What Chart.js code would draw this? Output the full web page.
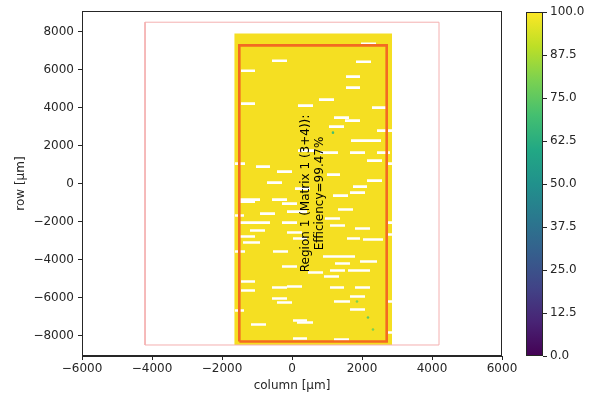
<!DOCTYPE html>
<html><head><meta charset="utf-8">
<script src="https://cdn.jsdelivr.net/npm/chart.js@4.4.1/dist/chart.umd.min.js"></script>
<style>
html,body{margin:0;padding:0;background:#fff;}
#wrap{position:relative;width:589px;height:396px;overflow:hidden;}
canvas{position:absolute;left:0;top:0;}
</style></head><body>
<div id="wrap"><canvas id="main" width="589" height="396"></canvas><canvas id="cbar" width="589" height="396"></canvas></div>
<script>
// ---- data ----
const xTicks = [-6000, -4000, -2000, 0, 2000, 4000, 6000];
const yTicks = [-8000, -6000, -4000, -2000, 0, 2000, 4000, 6000, 8000];
const cbarTicks = [0, 12.5, 25, 37.5, 50, 62.5, 75, 87.5, 100];
const xRange = [-6000, 6000];
const yRange = [-9080, 9080];
const sensorX = [-4200, 4200];
const sensorY = [-8500, 8500];
const heatX = [-1650, 2860];
const heatY = [-8500, 7900];
const heatValue = 100;
const regionX = [-1505, 2705];
const regionY = [-8316, 7280];
const regionLabel = ['Region 1 (Matrix 1 (3+4)):', 'Efficiency=99.47%'];
// dead (0 %) row segments: [xStart, xEnd, y]
const deadRows = [
 [1971, 2400, 7368], [-571, -143, 6474], [1829, 2257, 6421], [-1457, -1057, 5947],
 [1543, 1943, 5632], [1543, 1943, 5053], [771, 1200, 4421], [-1457, -1057, 4211],
 [171, 600, 4105], [2286, 2686, 4000], [1200, 1629, 3474], [1514, 1943, 3316],
 [1057, 1486, 3000], [2429, 2857, 2789], [1686, 2543, 2263], [171, 657, 1737],
 [800, 1314, 1632], [1657, 2086, 1632], [2429, 2800, 1632], [2143, 2571, 1211],
 [-1629, -1343, 1053], [2714, 2857, 1053], [-1029, -629, 895], [-429, 0, 632],
 [1000, 1371, 474], [2143, 2571, 158], [-714, -286, 53], [1743, 2143, -158],
 [86, 514, -263], [1657, 2086, -474], [1171, 1600, -632], [-1486, -914, -842],
 [-571, -143, -842], [-1486, -1057, -947], [-286, 143, -1053], [1314, 1743, -1368],
 [-143, 429, -1474], [-914, -486, -1579], [-1629, -1371, -1684], [943, 1371, -1842],
 [-1486, -629, -2053], [-286, 143, -2053], [2714, 2857, -2053], [1086, 1514, -2210],
 [1800, 2229, -2368], [-1200, -771, -2474], [-143, 286, -2579], [2714, 2857, -2684],
 [-1486, -1057, -2789], [29, 429, -2895], [1571, 1943, -2895], [2029, 2600, -2947],
 [-1400, -914, -3105], [-1629, -1343, -3579], [-543, -114, -3579], [886, 1800, -3842],
 [1943, 2429, -4105], [1229, 1657, -4210], [-286, 143, -4368], [1086, 1514, -4579],
 [1600, 2229, -4579], [457, 886, -4684], [914, 1343, -4895], [-1457, -1057, -5158],
 [-143, 286, -5421], [-571, -143, -5474], [1086, 1486, -5474], [1800, 2229, -5474],
 [-1457, -1057, -5632], [1657, 2086, -5947], [-571, -143, -6053], [1200, 1657, -6210],
 [2714, 2857, -6210], [-429, 0, -6263], [1657, 2086, -6632], [-1629, -1371, -6684],
 [29, 429, -7210], [143, 600, -7316], [-1171, -743, -7421], [2714, 2857, -7842],
 [29, 429, -8158], [1200, 1629, -8210]
];
// low-efficiency single pixels: [x, y, efficiency]
const lowPixels = [[1171, 2684, 70], [1857, -6210, 80], [2171, -7052, 75], [2314, -7684, 80]];

// ---- colour map ----
const viridisStops = ['#440154','#482475','#414487','#355f8d','#2a788e','#21918c','#22a884','#44bf70','#7ad151','#bddf26','#fde725'];
function hex(c){return [parseInt(c.substr(1,2),16),parseInt(c.substr(3,2),16),parseInt(c.substr(5,2),16)];}
function viridis(v){
  const t = Math.max(0, Math.min(1, v/100)) * (viridisStops.length-1);
  const i = Math.min(Math.floor(t), viridisStops.length-2), f = t - i;
  const a = hex(viridisStops[i]), b = hex(viridisStops[i+1]);
  return 'rgb(' + a.map((k,j)=>Math.round(k+(b[j]-k)*f)).join(',') + ')';
}
const FONT = {family: 'DejaVu Sans', size: 12};
const DARK = '#262626';
const minus = v => (v < 0 ? '\u2212' + Math.abs(v) : String(v));
const rect = (xs, ys) => [{x:xs[0],y:ys[0]},{x:xs[1],y:ys[0]},{x:xs[1],y:ys[1]},{x:xs[0],y:ys[1]},{x:xs[0],y:ys[0]}];

const datasets = [];
datasets.push({
  data: [{x: heatX[0], y: heatY[1]}, {x: heatX[1], y: heatY[1]}],
  fill: {value: heatY[0]}, backgroundColor: '#f5df22',
  borderColor: 'rgba(0,0,0,0)', borderWidth: 0, pointRadius: 0, order: 6
});
deadRows.forEach(r => datasets.push({
  data: [{x: r[0], y: r[2]}, {x: r[1], y: r[2]}],
  borderColor: '#ffffff', borderWidth: 2.6, borderCapStyle: 'butt', pointRadius: 0, fill: false, order: 5
}));
datasets.push({
  data: lowPixels.map(p => ({x: p[0], y: p[1]})), showLine: false,
  pointRadius: 1.3, pointBorderWidth: 0,
  pointBackgroundColor: lowPixels.map(p => viridis(p[2])), order: 4
});
datasets.push({
  data: rect(sensorX, sensorY), borderColor: '#f4b0b0', borderWidth: 1, pointRadius: 0, fill: false, order: 3
});
datasets.push({
  data: rect(regionX, regionY), borderColor: '#f36a22', borderWidth: 2.6, pointRadius: 0, fill: false, order: 2
});

const mainPlugin = {
  id: 'mainDeco',
  afterDatasetsDraw(chart) {
    const ctx = chart.ctx, xs = chart.scales.x, ys = chart.scales.y;
    const cx = xs.getPixelForValue((regionX[0]+regionX[1])/2);
    const cy = ys.getPixelForValue((regionY[0]+regionY[1])/2);
    ctx.save();
    ctx.translate(cx, cy);
    ctx.rotate(-Math.PI/2);
    ctx.fillStyle = '#000';
    ctx.font = '12px "DejaVu Sans"';
    ctx.textAlign = 'center';
    ctx.textBaseline = 'middle';
    ctx.fillText(regionLabel[0], 0, -7);
    ctx.fillText(regionLabel[1], 0, 7);
    ctx.restore();
  },
  afterDraw(chart) {
    const a = chart.chartArea, ctx = chart.ctx;
    ctx.save();
    ctx.strokeStyle = DARK; ctx.lineWidth = 1;
    ctx.strokeRect(Math.round(a.left)+0.5, Math.round(a.top)+0.5, Math.round(a.right-a.left)-1, Math.round(a.bottom-a.top)-1);
    ctx.restore();
  }
};

new Chart(document.getElementById('main'), {
  type: 'line',
  data: {datasets},
  options: {
    responsive: false, animation: false, devicePixelRatio: 1,
    layout: {padding: {left: 0, right: 87, top: 11, bottom: 0}},
    plugins: {legend: {display: false}, tooltip: {enabled: false}},
    scales: {
      x: {
        type: 'linear', min: xRange[0], max: xRange[1],
        afterBuildTicks: s => { s.ticks = xTicks.map(v => ({value: v})); },
        afterFit: s => { s.height = 40; },
        ticks: {callback: v => minus(v), color: DARK, font: FONT, padding: 2, maxRotation: 0, autoSkip: false},
        grid: {drawOnChartArea: false, drawTicks: true, tickLength: 4, color: DARK},
        border: {display: true, color: DARK},
        title: {display: true, text: 'column [µm]', color: DARK, font: FONT, padding: {top: 0, bottom: 3}}
      },
      y: {
        type: 'linear', min: yRange[0], max: yRange[1],
        afterBuildTicks: s => { s.ticks = yTicks.map(v => ({value: v})); },
        afterFit: s => { s.width = 82; },
        ticks: {callback: v => minus(v), color: DARK, font: FONT, padding: 4, autoSkip: false},
        grid: {drawOnChartArea: false, drawTicks: true, tickLength: 4, color: DARK},
        border: {display: true, color: DARK},
        title: {display: true, text: 'row [µm]', color: DARK, font: FONT, padding: {top: 14, bottom: 0}}
      }
    }
  },
  plugins: [mainPlugin]
});

// ---- colour bar ----
const cbarPlugin = {
  id: 'cbarFrame',
  afterDraw(chart) {
    const a = chart.chartArea, ctx = chart.ctx;
    ctx.save();
    ctx.strokeStyle = DARK; ctx.lineWidth = 1;
    ctx.strokeRect(Math.round(a.left)+0.5, Math.round(a.top)+0.5, Math.round(a.right-a.left)-1, Math.round(a.bottom-a.top)-1);
    ctx.restore();
  }
};
new Chart(document.getElementById('cbar'), {
  type: 'bar',
  data: {labels: ['eff'], datasets: [{
    data: [[cbarTicks[0], cbarTicks[cbarTicks.length-1]]],
    barPercentage: 1, categoryPercentage: 1, borderWidth: 0, borderSkipped: false,
    backgroundColor: (c) => {
      const a = c.chart.chartArea;
      if (!a) return viridisStops[10];
      const g = c.chart.ctx.createLinearGradient(0, a.bottom, 0, a.top);
      viridisStops.forEach((s, i) => g.addColorStop(i/(viridisStops.length-1), s));
      return g;
    }
  }]},
  options: {
    responsive: false, animation: false, devicePixelRatio: 1,
    layout: {padding: {left: 526, right: 0, top: 12, bottom: 40}},
    plugins: {legend: {display: false}, tooltip: {enabled: false}},
    scales: {
      x: {display: false},
      y: {
        position: 'right', min: 0, max: 100,
        afterBuildTicks: s => { s.ticks = cbarTicks.map(v => ({value: v})); },
        afterFit: s => { s.width = 46; },
        ticks: {callback: v => Number(v).toFixed(1), color: DARK, font: FONT, padding: 3, autoSkip: false},
        grid: {drawOnChartArea: false, drawTicks: true, tickLength: 4, color: DARK},
        border: {display: false}
      }
    }
  },
  plugins: [cbarPlugin]
});
</script>
</body></html>
